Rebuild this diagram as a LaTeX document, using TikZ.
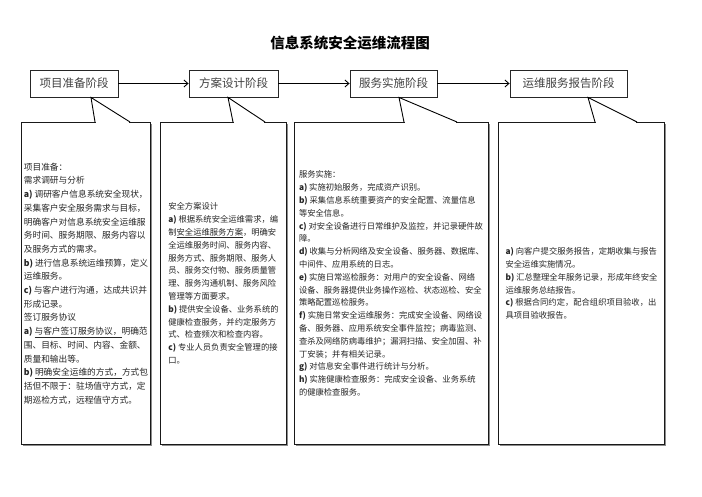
\documentclass[tikz,border=0pt]{standalone}
\usepackage{fontspec}
\setmainfont{Noto Sans CJK SC}
\usetikzlibrary{arrows.meta, calc, shadows}

\tikzset{
	stagebox/.style={draw=black!85, line width=0.9pt, minimum height=27pt, inner sep=0pt,
		font=\fontsize{11.5}{13}\selectfont\color{black!75}}
}
\tikzset{
	notebox/.style={draw=black!90, line width=1pt, fill=white, minimum height=322pt,
		inner sep=0pt, align=left, anchor=north west,
		drop shadow={shadow xshift=1.3pt, shadow yshift=-1.3pt, fill=black!45, opacity=1},
		font=\fontsize{8.3}{12.8}\selectfont\color{black!85}}
}
\newcommand{\itemlbl}[1]{\textbf{#1)}\ }

\begin{document}
\begin{tikzpicture}[x=1pt, y=-1pt, >={Straight Barb[length=4pt,width=7pt]}]
      \useasboundingbox (0,0) rectangle (702,496);

      \node[font=\fontsize{14.5}{16}\selectfont\bfseries] (title) at (350,43) {信息系统安全运维流程图};

      % four stages in a row
      \node[stagebox, minimum width=88pt] (prep) at (74,83.5) {项目准备阶段};
      \node[stagebox, minimum width=89pt] (design) at (233.5,83.5) {方案设计阶段};
      \node[stagebox, minimum width=87pt] (impl) at (393.5,83.5) {服务实施阶段};
      \node[stagebox, minimum width=117pt] (report) at (568.5,83.5) {运维服务报告阶段};

      \draw[line width=0.9pt, ->] (prep.east) -- (design.west);
      \draw[line width=0.9pt, ->] (design.east) -- (impl.west);
      \draw[line width=0.9pt, ->] (impl.east) -- (report.west);

      % boxes under each stage
      \node[notebox, minimum width=129pt, font=\fontsize{8.7}{13.7}\selectfont\color{black!85}] (prepbox) at (21,122) {%
        项目准备：\\
        需求调研与分析\\
        \itemlbl{a}调研客户信息系统安全现状，\\
        采集客户安全服务需求与目标，\\
        明确客户对信息系统安全运维服\\
        务时间、服务期限、服务内容以\\
        及服务方式的需求。\\
        \itemlbl{b}进行信息系统运维预算，定义\\
        运维服务。\\
        \itemlbl{c}与客户进行沟通，达成共识并\\
        形成记录。\\
        签订服务协议\\
        \itemlbl{a}\underline{与客户签订服务协议，}明确范\\
        围、目标、时间、内容、金额、\\
        质量和输出等。\\
        \itemlbl{b}\underline{明确安全运维的方式，}方式包\\
        括但不限于：驻场值守方式，定\\
        期巡检方式，远程值守方式。};

      \node[notebox, minimum width=126pt] (designbox) at (160,122) {%
        安全方案设计\\
        \itemlbl{a}根据系统安全运维需求，编\\
        制\underline{安全运维服务方案}，明确安\\
        全运维服务时间、服务内容、\\
        服务方式、服务期限、服务人\\
        员、服务交付物、服务质量管\\
        理、服务沟通机制、服务风险\\
        管理等方面要求。\\
        \itemlbl{b}提供安全设备、业务系统的\\
        健康检查服务，并约定服务方\\
        式、检查频次和检查内容。\\
        \itemlbl{c}专业人员负责安全管理的接\\
        口。};

      \node[notebox, minimum width=194pt] (implbox) at (294,122) {%
        服务实施：\\
        \itemlbl{a}实施初始服务，完成资产识别。\\
        \itemlbl{b}采集信息系统重要资产的安全配置、流量信息\\
        等安全信息。\\
        \itemlbl{c}对安全设备进行日常维护及监控，并记录硬件故\\
        障。\\
        \itemlbl{d}收集与分析网络及安全设备、服务器、数据库、\\
        中间件、应用系统的日志。\\
        \itemlbl{e}实施日常巡检服务：对用户的安全设备、网络\\
        设备、服务器提供业务操作巡检、状态巡检、安全\\
        策略配置巡检服务。\\
        \itemlbl{f}实施日常安全运维服务：完成安全设备、网络设\\
        备、服务器、应用系统安全事件监控；病毒监测、\\
        查杀及网络防病毒维护；漏洞扫描、安全加固、补\\
        丁安装；并有相关记录。\\
        \itemlbl{g}对信息安全事件进行统计与分析。\\
        \itemlbl{h}实施健康检查服务：完成安全设备、业务系统\\
        的健康检查服务。};

      \node[notebox, minimum width=166pt] (reportbox) at (498,122) {%
        \itemlbl{a}向客户提交服务报告，定期收集与报告\\
        安全运维实施情况。\\
        \itemlbl{b}汇总整理全年服务记录，形成年终安全\\
        运维服务总结报告。\\
        \itemlbl{c}根据合同约定，配合组织项目验收，出\\
        具项目验收报告。};

      % callout pointers up to the stages
      \fill[white] ($(prepbox.north west)+(74.6,-1)$) rectangle ($(prepbox.north west)+(108.4,1)$);
      \draw[line width=0.9pt] ($(prepbox.north west)+(74,0)$) -- ($(prep.south)+(17,0)$) -- ($(prepbox.north west)+(109,0)$);
      \fill[white] ($(designbox.north west)+(73.6,-1)$) rectangle ($(designbox.north west)+(104.4,1)$);
      \draw[line width=0.9pt] ($(designbox.north west)+(73,0)$) -- ($(design.south)+(-5.5,0)$) -- ($(designbox.north west)+(105,0)$);
      \fill[white] ($(implbox.north west)+(110.6,-1)$) rectangle ($(implbox.north west)+(162.4,1)$);
      \draw[line width=0.9pt] ($(implbox.north west)+(110,0)$) -- ($(impl.south)+(5.5,0)$) -- ($(implbox.north west)+(163,0)$);
      \fill[white] ($(reportbox.north west)+(97.6,-1)$) rectangle ($(reportbox.north west)+(138.4,1)$);
      \draw[line width=0.9pt] ($(reportbox.north west)+(97,0)$) -- ($(report.south)+(19.5,0)$) -- ($(reportbox.north west)+(139,0)$);
    \end{tikzpicture}
\end{document}
